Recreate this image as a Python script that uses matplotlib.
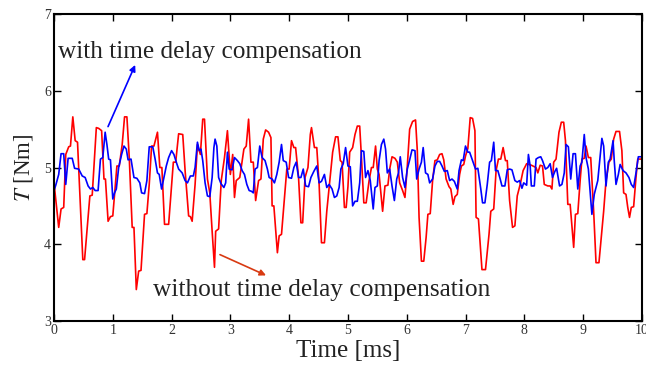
import numpy as np
import matplotlib
matplotlib.use("Agg")
import matplotlib.pyplot as plt

# torque without compensation (red) - time [ms], torque [Nm]
red_t = [0.00, 0.08, 0.12, 0.165, 0.20, 0.25, 0.28, 0.32, 0.36, 0.40, 0.49, 0.52, 0.61, 0.65,
         0.72, 0.76, 0.81, 0.85, 0.875, 0.92, 0.96, 1.00, 1.07, 1.11, 1.16, 1.20, 1.24, 1.28,
         1.33, 1.36, 1.40, 1.44, 1.48, 1.54, 1.58, 1.62, 1.66, 1.70, 1.76, 1.80, 1.835, 1.88,
         1.95, 2.03, 2.07, 2.12, 2.19, 2.23, 2.29, 2.32, 2.35, 2.40, 2.44, 2.49, 2.53, 2.56,
         2.61, 2.65, 2.69, 2.73, 2.75, 2.80, 2.845, 2.90, 2.95, 3.00, 3.04, 3.07, 3.10, 3.16,
         3.23, 3.27, 3.31, 3.35, 3.39, 3.43, 3.48, 3.52, 3.56, 3.60, 3.65, 3.69, 3.71, 3.74,
         3.80, 3.83, 3.87, 3.96, 4.00, 4.04, 4.08, 4.11, 4.16, 4.20, 4.23, 4.27, 4.32, 4.36,
         4.38, 4.43, 4.47, 4.51, 4.55, 4.60, 4.64, 4.68, 4.74, 4.79, 4.83, 4.87, 4.90, 4.94,
         4.97, 5.00, 5.03, 5.08, 5.12, 5.16, 5.20, 5.23, 5.27, 5.31, 5.36, 5.40, 5.43, 5.47,
         5.50, 5.53, 5.59, 5.63, 5.68, 5.71, 5.75, 5.80, 5.84, 5.88, 5.93, 5.97, 6.01, 6.05,
         6.10, 6.15, 6.18, 6.21, 6.25, 6.29, 6.33, 6.36, 6.40, 6.44, 6.48, 6.52, 6.56, 6.60,
         6.63, 6.67, 6.72, 6.75, 6.79, 6.82, 6.86, 6.90, 6.93, 6.97, 7.00, 7.04, 7.08, 7.12,
         7.16, 7.18, 7.22, 7.28, 7.34, 7.40, 7.43, 7.48, 7.52, 7.56, 7.60, 7.64, 7.68, 7.71,
         7.75, 7.80, 7.84, 7.88, 7.93, 7.98, 8.04, 8.12, 8.20, 8.23, 8.27, 8.31, 8.34, 8.40,
         8.44, 8.47, 8.50, 8.54, 8.59, 8.63, 8.67, 8.70, 8.74, 8.78, 8.84, 8.87, 8.91, 8.95,
         8.98, 9.02, 9.05, 9.09, 9.13, 9.18, 9.22, 9.27, 9.31, 9.35, 9.39, 9.44, 9.48, 9.52,
         9.56, 9.62, 9.66, 9.69, 9.73, 9.76, 9.79, 9.82, 9.86, 9.90, 9.93, 10.00]
red_T = [4.80, 4.22, 4.46, 4.48, 5.17, 5.27, 5.28, 5.66, 5.35, 5.33, 3.80, 3.80, 4.63, 4.64,
         5.52, 5.51, 5.48, 4.85, 4.85, 4.30, 4.36, 4.37, 5.02, 5.02, 5.30, 5.66, 5.66, 5.13,
         4.22, 4.22, 3.41, 3.65, 3.66, 4.39, 4.40, 4.78, 5.28, 5.28, 5.46, 5.00, 5.00, 4.26,
         4.26, 5.07, 5.07, 5.44, 5.43, 4.96, 4.37, 4.36, 4.30, 4.78, 5.30, 5.17, 5.63, 5.63,
         4.85, 4.67, 4.17, 3.70, 4.17, 4.20, 4.83, 5.13, 5.48, 4.91, 5.17, 4.61, 4.83, 4.87,
         5.24, 5.28, 5.63, 5.07, 5.07, 4.57, 4.83, 4.85, 5.37, 5.49, 5.46, 5.39, 4.50, 4.50,
         3.89, 4.11, 4.13, 4.98, 4.98, 5.35, 5.26, 5.26, 4.87, 4.28, 4.28, 4.87, 5.00, 5.43,
         5.52, 5.26, 5.26, 4.78, 4.02, 4.02, 4.43, 4.74, 5.20, 5.40, 5.40, 5.09, 5.07, 4.48,
         4.48, 4.75, 5.20, 5.26, 5.43, 5.54, 5.54, 5.13, 4.54, 4.54, 4.83, 5.00, 5.00, 5.28,
         4.98, 4.91, 4.43, 4.76, 4.77, 4.98, 5.14, 5.12, 5.07, 4.80, 4.70, 4.61, 5.02, 5.50,
         5.60, 5.62, 5.22, 4.35, 3.78, 3.78, 4.09, 4.39, 4.40, 4.83, 5.09, 5.10, 5.17, 5.18,
         5.10, 4.85, 4.75, 4.72, 4.52, 4.62, 4.65, 4.91, 5.02, 5.04, 5.15, 5.25, 5.65, 5.64,
         5.48, 4.35, 4.33, 3.67, 3.67, 4.13, 4.43, 4.46, 4.96, 5.11, 5.11, 5.26, 5.09, 5.09,
         4.57, 4.22, 4.24, 4.63, 4.78, 4.96, 5.05, 5.03, 5.00, 4.93, 5.03, 5.02, 4.78, 4.76,
         4.76, 4.72, 5.07, 5.11, 5.46, 5.59, 5.59, 5.35, 4.52, 4.52, 3.96, 4.39, 4.40, 4.83,
         5.11, 5.12, 5.28, 5.13, 5.13, 4.43, 3.76, 3.76, 4.09, 4.43, 4.83, 5.07, 5.11, 5.37,
         5.47, 5.47, 5.22, 4.67, 4.65, 4.48, 4.35, 4.48, 4.49, 4.87, 5.11, 5.11]

# torque with time delay compensation (blue)
blue_t = [0.00, 0.03, 0.08, 0.12, 0.165, 0.20, 0.24, 0.31, 0.35, 0.42, 0.48, 0.53, 0.58, 0.62,
          0.66, 0.70, 0.75, 0.79, 0.83, 0.87, 0.90, 0.93, 0.96, 1.00, 1.03, 1.06, 1.10, 1.15,
          1.19, 1.23, 1.26, 1.31, 1.36, 1.41, 1.46, 1.49, 1.54, 1.58, 1.62, 1.68, 1.72, 1.76,
          1.79, 1.83, 1.87, 1.91, 1.95, 2.00, 2.04, 2.08, 2.12, 2.18, 2.23, 2.27, 2.32, 2.37,
          2.40, 2.44, 2.47, 2.50, 2.53, 2.57, 2.61, 2.65, 2.69, 2.72, 2.74, 2.77, 2.80, 2.84,
          2.89, 2.92, 2.95, 2.98, 3.03, 3.07, 3.12, 3.16, 3.20, 3.24, 3.28, 3.32, 3.36, 3.39,
          3.42, 3.46, 3.50, 3.54, 3.59, 3.63, 3.66, 3.71, 3.75, 3.79, 3.83, 3.87, 3.90, 3.95,
          3.99, 4.04, 4.08, 4.12, 4.16, 4.20, 4.24, 4.28, 4.33, 4.37, 4.42, 4.47, 4.51, 4.55,
          4.60, 4.64, 4.68, 4.73, 4.77, 4.81, 4.85, 4.88, 4.92, 4.96, 5.00, 5.04, 5.08, 5.12,
          5.16, 5.20, 5.23, 5.27, 5.30, 5.34, 5.38, 5.43, 5.46, 5.50, 5.53, 5.57, 5.61, 5.64,
          5.67, 5.71, 5.75, 5.79, 5.83, 5.86, 5.89, 5.93, 5.97, 6.01, 6.05, 6.09, 6.14, 6.17,
          6.21, 6.25, 6.28, 6.32, 6.36, 6.39, 6.44, 6.48, 6.52, 6.56, 6.60, 6.64, 6.69, 6.73,
          6.77, 6.81, 6.86, 6.89, 6.93, 6.96, 7.00, 7.04, 7.07, 7.12, 7.17, 7.21, 7.26, 7.29,
          7.33, 7.37, 7.41, 7.44, 7.48, 7.51, 7.55, 7.59, 7.62, 7.67, 7.71, 7.75, 7.79, 7.84,
          7.88, 7.92, 7.96, 7.99, 8.04, 8.07, 8.10, 8.12, 8.17, 8.20, 8.24, 8.28, 8.31, 8.36,
          8.40, 8.44, 8.48, 8.52, 8.55, 8.60, 8.64, 8.68, 8.71, 8.75, 8.79, 8.83, 8.87, 8.91,
          8.95, 8.98, 9.02, 9.05, 9.09, 9.15, 9.19, 9.25, 9.28, 9.32, 9.35, 9.39, 9.43, 9.46,
          9.51, 9.53, 9.56, 9.60, 9.63, 9.68, 9.73, 9.78, 9.82, 9.86, 9.90, 9.94, 10.00]
blue_T = [4.70, 4.77, 4.91, 5.18, 5.18, 4.78, 5.12, 5.12, 4.99, 4.98, 4.89, 4.87, 4.76, 4.72,
          4.74, 4.70, 4.70, 5.11, 5.13, 5.46, 5.30, 5.11, 5.10, 4.59, 4.67, 4.72, 5.00, 5.17,
          5.28, 5.24, 5.10, 5.11, 4.87, 4.86, 4.80, 4.67, 4.66, 4.83, 5.27, 5.27, 5.11, 4.93,
          4.91, 4.72, 4.87, 5.02, 5.13, 5.22, 5.17, 5.07, 4.98, 4.93, 4.83, 4.80, 4.89, 4.89,
          5.00, 5.33, 5.22, 5.24, 5.09, 4.80, 4.63, 4.62, 4.87, 5.26, 5.37, 5.28, 4.87, 4.79,
          4.74, 4.80, 5.20, 4.98, 4.97, 5.13, 5.09, 5.05, 4.96, 4.91, 4.78, 4.70, 4.69, 4.67,
          4.98, 5.00, 5.28, 5.13, 5.09, 4.98, 4.87, 4.85, 4.80, 4.91, 5.07, 5.30, 5.09, 5.07,
          4.87, 4.86, 5.00, 5.07, 4.87, 4.87, 4.98, 4.76, 4.75, 4.87, 4.95, 5.02, 4.80, 4.82,
          4.91, 4.74, 4.78, 4.72, 4.61, 4.63, 4.74, 4.98, 5.05, 5.26, 5.02, 5.01, 4.50, 4.56,
          4.56, 4.80, 5.22, 5.21, 4.87, 4.96, 4.83, 4.46, 4.74, 4.76, 5.09, 5.30, 5.37, 5.24,
          4.93, 4.98, 4.76, 4.57, 4.85, 4.93, 5.14, 4.87, 4.74, 4.98, 5.10, 5.23, 5.22, 4.85,
          4.98, 5.07, 5.26, 4.93, 4.91, 4.80, 4.85, 5.02, 5.08, 5.08, 5.02, 4.95, 4.96, 4.83,
          4.85, 4.82, 4.72, 4.96, 5.10, 5.09, 5.28, 5.20, 5.20, 5.09, 4.98, 4.99, 4.72, 4.54,
          4.54, 4.78, 5.07, 5.09, 5.33, 4.96, 4.96, 4.85, 4.76, 4.76, 4.97, 4.98, 4.97, 4.83,
          4.81, 4.83, 4.73, 4.80, 4.77, 5.17, 5.02, 4.76, 4.76, 5.11, 5.13, 5.14, 5.09, 4.98,
          5.00, 5.05, 4.87, 4.95, 4.99, 4.76, 4.78, 4.93, 5.30, 5.27, 4.85, 5.18, 5.18, 4.72,
          5.02, 5.07, 5.43, 5.13, 4.98, 4.39, 4.65, 4.83, 5.07, 5.38, 5.28, 4.76, 5.07, 5.11,
          5.35, 5.09, 4.78, 4.91, 5.04, 4.96, 4.93, 4.87, 4.78, 4.74, 4.93, 5.14, 5.14]

xticks = [0, 1, 2, 3, 4, 5, 6, 7, 8, 9, 10]
yticks = [3, 4, 5, 6, 7]

plt.rcParams['font.family'] = ['Liberation Serif', 'DejaVu Serif']
plt.rcParams['mathtext.fontset'] = 'stix'

fig = plt.figure(figsize=(6.46, 3.69), dpi=100)
ax = fig.add_axes([0.0836, 0.130, 0.910, 0.832])

ax.plot(red_t, red_T, color='#ff0000', lw=1.2)
ax.plot(blue_t, blue_T, color='#0000ff', lw=1.2)

ax.set_xlim(0, 10)
ax.set_ylim(3, 7)
ax.set_xticks(xticks)
ax.set_yticks(yticks)
ax.tick_params(direction='in', top=True, right=True, length=5, width=1,
               labelsize=10, labelcolor='#333333', pad=2)
for sp in ax.spines.values():
    sp.set_linewidth(1.5)

ax.set_xlabel('Time [ms]', fontsize=18, color='#222222', labelpad=2)
ax.set_ylabel('$T$ [Nm]', fontsize=16.5, color='#222222', labelpad=7)

# labels with arrows
ax.text(0.07, 6.50, 'with time delay compensation', fontsize=18.2, color='#222222',
        va='center', ha='left')
ax.annotate('', xy=(1.40, 6.37), xytext=(0.90, 5.50),
            arrowprops=dict(arrowstyle='-|>', color='#0000ff', lw=1.2, mutation_scale=9))
ax.text(1.69, 3.40, 'without time delay compensation', fontsize=18.3, color='#222222',
        va='center', ha='left')
ax.annotate('', xy=(3.65, 3.58), xytext=(2.78, 3.88),
            arrowprops=dict(arrowstyle='-|>', color='#d83a12', lw=1.2, mutation_scale=9))

fig.savefig('out.png', dpi=100)
